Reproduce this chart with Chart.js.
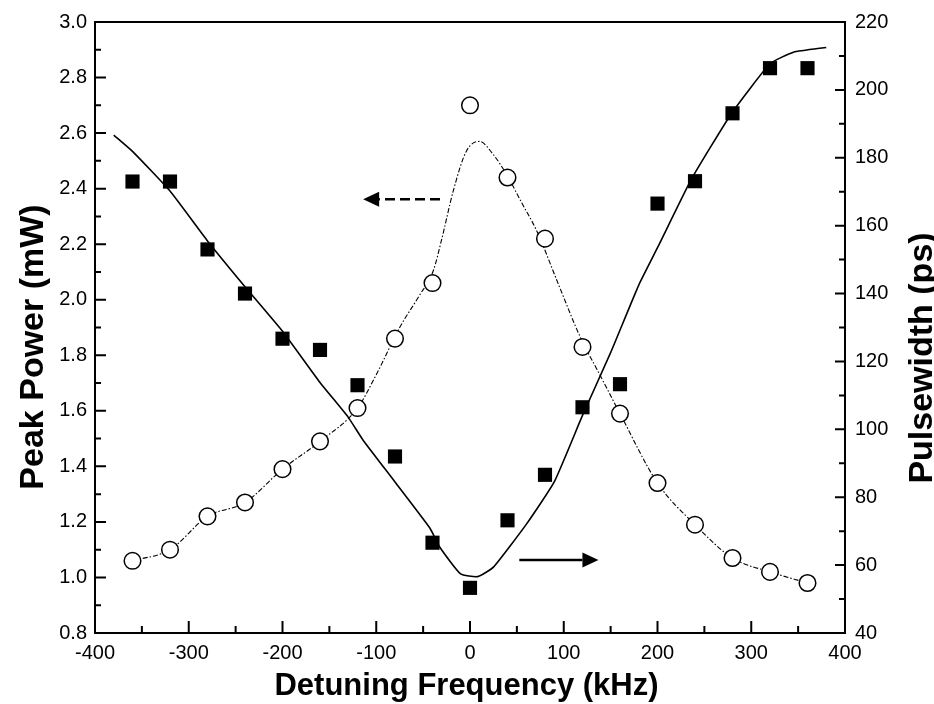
<!DOCTYPE html>
<html>
<head>
<meta charset="utf-8">
<script src="https://cdn.jsdelivr.net/npm/chart.js@4/dist/chart.umd.min.js"></script>
<style>
  html, body { margin: 0; padding: 0; background: #fff; }
  #wrap { width: 934px; height: 704px; }
</style>
</head>
<body>
<div id="wrap"><canvas id="c" width="934" height="704"></canvas></div>
<script>
// ---- data ----
const detuning = [-360,-320,-280,-240,-200,-160,-120,-80,-40,0,40,80,120,160,200,240,280,320,360];
const peakPower = [1.06,1.10,1.22,1.27,1.39,1.49,1.61,1.86,2.06,2.70,2.44,2.22,1.83,1.59,1.34,1.19,1.07,1.02,0.98];
const pulsewidth = [173,173,153,140,126.7,123.4,113,92,66.6,53.3,73.2,86.6,106.5,113.3,166.5,173.1,193.1,206.4,206.4];

const powerFitX = [-360,-320,-280,-240,-200,-160,-120,-100,-75,-55,-39,-30,-18,-4,10,25,39,55,71,95,117,140,160,200,240,280,320,360];
const powerFitY = [1.06,1.10,1.22,1.27,1.39,1.49,1.61,1.73,1.90,2.01,2.106,2.22,2.39,2.534,2.57,2.522,2.451,2.35,2.249,2.05,1.87,1.72,1.59,1.34,1.19,1.07,1.02,0.98];

const widthFitX = [-380,-360,-320,-280,-240,-200,-160,-130,-114,-80,-43,-32,-10,8,25,60,90,120,150,180,200,235,256,280,320,345,380];
const widthFitY = [186.7,181.9,170.2,155.5,142.0,128.9,113.8,103.6,96.8,84.5,71.0,65.2,57.4,56.6,59.4,72.0,84.6,104.1,122.6,142.5,153.5,173.1,182.9,193.5,207.7,211.1,212.5];

// arrows: [tailX, tipX, value] in data units
const powerArrow = [-32, -114, 2.362];   // left axis, dashed, points left
const widthArrow = [52.6, 137, 61.5];    // right axis, solid, points right

const xTickLabels = [-400,-300,-200,-100,0,100,200,300,400];
const xTitle = 'Detuning Frequency (kHz)';
const yTitle = 'Peak Power (mW)';
const y2Title = 'Pulsewidth (ps)';

const zip = (xs, ys) => xs.map((x, i) => ({x: x, y: ys[i]}));

const framePlugin = {
  id: 'frame',
  afterDraw(chart) {
    const ctx = chart.ctx;
    const a = chart.chartArea;
    const sx = chart.scales.x, sy = chart.scales.y, sy2 = chart.scales.y2;
    ctx.save();
    ctx.strokeStyle = '#000';
    ctx.lineWidth = 2;
    ctx.strokeRect(a.left, a.top, a.right - a.left, a.bottom - a.top);
    ctx.lineWidth = 2;
    ctx.beginPath();
    for (let k = 0; k <= 16; k++) {
      const v = -400 + 50 * k;
      const p = sx.getPixelForValue(v);
      const len = (k % 2 === 0) ? 12 : 7;
      ctx.moveTo(p, a.bottom); ctx.lineTo(p, a.bottom - len);
    }
    for (let k = 0; k <= 22; k++) {
      const v = 0.8 + 0.1 * k;
      const p = sy.getPixelForValue(v);
      const len = (k % 2 === 0) ? 11 : 6;
      ctx.moveTo(a.left, p); ctx.lineTo(a.left + len, p);
    }
    for (let k = 0; k <= 18; k++) {
      const v = 40 + 10 * k;
      const p = sy2.getPixelForValue(v);
      const len = (k % 2 === 0) ? 10 : 6;
      ctx.moveTo(a.right, p); ctx.lineTo(a.right - len, p);
    }
    ctx.stroke();

    // arrows
    function arrow(x1, x2, yPix, dashed) {
      const dir = Math.sign(x2 - x1);
      const head = 16, half = 7.5;
      ctx.save();
      ctx.lineWidth = 2.6;
      if (dashed) ctx.setLineDash([10, 5]);
      ctx.beginPath();
      ctx.moveTo(x1, yPix);
      ctx.lineTo(x2 - dir * head, yPix);
      ctx.stroke();
      ctx.setLineDash([]);
      ctx.beginPath();
      ctx.moveTo(x2, yPix);
      ctx.lineTo(x2 - dir * head, yPix - half);
      ctx.lineTo(x2 - dir * head, yPix + half);
      ctx.closePath();
      ctx.fillStyle = '#000';
      ctx.fill();
      ctx.restore();
    }
    arrow(sx.getPixelForValue(powerArrow[0]), sx.getPixelForValue(powerArrow[1]), sy.getPixelForValue(powerArrow[2]), true);
    arrow(sx.getPixelForValue(widthArrow[0]), sx.getPixelForValue(widthArrow[1]), sy2.getPixelForValue(widthArrow[2]), false);

    // axis titles
    ctx.fillStyle = '#000';
    ctx.textAlign = 'center';
    ctx.textBaseline = 'alphabetic';
    ctx.font = 'bold 31px "Liberation Sans", Arial, sans-serif';
    ctx.fillText(xTitle, 466.5, 695);
    ctx.font = 'bold 34px "Liberation Sans", Arial, sans-serif';
    ctx.save();
    ctx.translate(43, 347);
    ctx.rotate(-Math.PI / 2);
    ctx.fillText(yTitle, 0, 0);
    ctx.restore();
    ctx.save();
    ctx.translate(932, 358);
    ctx.rotate(-Math.PI / 2);
    ctx.fillText(y2Title, 0, 0);
    ctx.restore();
    ctx.restore();
  }
};

const tickFont = { family: '"Liberation Sans", Arial, sans-serif', size: 20 };

new Chart(document.getElementById('c'), {
  type: 'scatter',
  data: {
    datasets: [
      {
        label: 'Peak Power',
        data: zip(detuning, peakPower),
        yAxisID: 'y',
        showLine: false,
        pointStyle: 'circle',
        pointRadius: 8.3,
        pointBorderWidth: 1.5,
        pointBackgroundColor: '#fff',
        pointBorderColor: '#000',
        order: 1
      },
      {
        label: 'Pulsewidth',
        data: zip(detuning, pulsewidth),
        yAxisID: 'y2',
        showLine: false,
        pointStyle: 'rect',
        pointRadius: 10,
        pointBorderWidth: 0,
        pointBackgroundColor: '#000',
        pointBorderColor: '#000',
        order: 0
      },
      {
        label: 'Peak Power fit',
        data: zip(powerFitX, powerFitY),
        yAxisID: 'y',
        showLine: true,
        pointRadius: 0,
        borderColor: '#000',
        borderWidth: 1.1,
        borderDash: [5, 2, 1.5, 2],
        cubicInterpolationMode: 'monotone',
        fill: false,
        order: 3
      },
      {
        label: 'Pulsewidth fit',
        data: zip(widthFitX, widthFitY),
        yAxisID: 'y2',
        showLine: true,
        pointRadius: 0,
        borderColor: '#000',
        borderWidth: 1.6,
        tension: 0.15,
        fill: false,
        order: 2
      }
    ]
  },
  options: {
    responsive: false,
    animation: false,
    devicePixelRatio: 1,
    layout: { padding: { top: 16, left: 0, right: 0, bottom: 0 } },
    plugins: { legend: { display: false }, tooltip: { enabled: false } },
    scales: {
      x: {
        type: 'linear', position: 'bottom',
        min: -400, max: 400,
        grid: { display: false, drawTicks: false },
        border: { display: false },
        ticks: { stepSize: 100, color: '#000', font: tickFont, padding: 8, maxRotation: 0,
                 callback: (v) => xTickLabels.includes(v) ? String(v) : '' },
        afterFit: (s) => { s.height = 71; }
      },
      y: {
        type: 'linear', position: 'left',
        min: 0.8, max: 3.0,
        grid: { display: false, drawTicks: false },
        border: { display: false },
        ticks: { stepSize: 0.2, color: '#000', font: tickFont, padding: 8,
                 callback: (v) => Number(v).toFixed(1) },
        afterFit: (s) => { s.width = 95; }
      },
      y2: {
        type: 'linear', position: 'right',
        min: 40, max: 220,
        grid: { display: false, drawTicks: false },
        border: { display: false },
        ticks: { stepSize: 20, color: '#000', font: tickFont, padding: 10,
                 callback: (v) => String(Math.round(v)) },
        afterFit: (s) => { s.width = 89; }
      }
    }
  },
  plugins: [framePlugin]
});
</script>
</body>
</html>
